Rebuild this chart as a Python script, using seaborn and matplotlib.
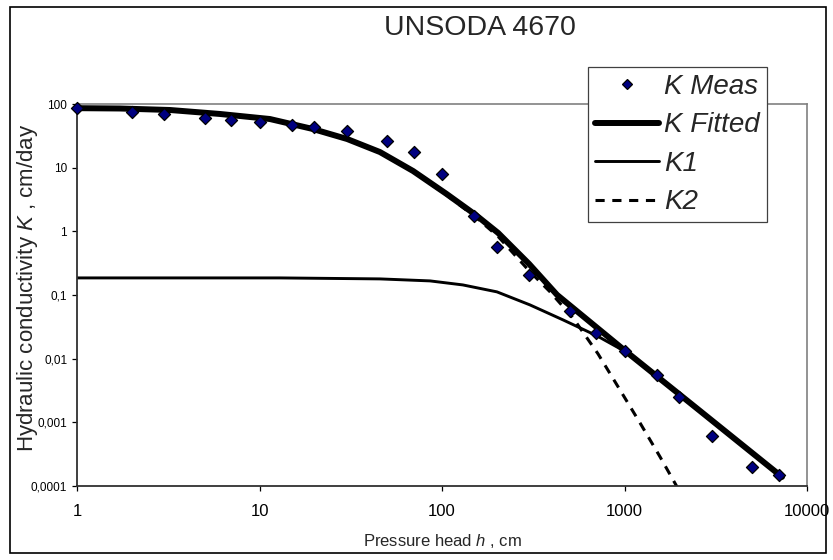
import numpy as np
import pandas as pd
import matplotlib
matplotlib.use("Agg")
import matplotlib.pyplot as plt
import seaborn as sns
from matplotlib.lines import Line2D
from matplotlib.patches import Rectangle
from matplotlib.font_manager import FontProperties

# ---------------- data ----------------
title = "UNSODA 4670"
h_meas = [1, 2, 3, 5, 7, 10, 15, 20, 30, 50, 70, 100, 150, 200, 300, 500, 700,
          1000, 1500, 2000, 3000, 5000, 7000]
k_meas = [86.6, 74.9, 69.7, 60.3, 56.1, 52.2, 46.7, 44.3, 37.7, 26.2, 17.6, 7.96,
          1.75, 0.569, 0.207, 0.0563, 0.0254, 0.0133, 0.00557, 0.00251,
          0.000614, 0.0002, 0.00015]

h_fit = [1, 1.72, 3.23, 6.08, 11.4, 19.6, 30.2, 45.7, 69.4, 106, 153, 203, 300,
         427, 994, 2594, 7295]
k_fit = [86, 85, 80.5, 69.7, 58.1, 40.5, 28.2, 17.6, 8.87, 3.86, 1.81, 0.944,
         0.308, 0.1005, 0.01374, 0.00151, 0.000139]

h_k1 = [1, 12.9, 45.7, 86, 130, 200, 303, 460, 707, 994, 2594, 7295]
k_k1 = [0.1855, 0.1855, 0.179, 0.1665, 0.144, 0.112, 0.070, 0.0407, 0.0228,
        0.01325, 0.00146, 0.000135]

h_k2 = [1, 1.72, 3.23, 6.08, 11.4, 19.6, 30.2, 45.7, 69.4, 106, 153, 203, 300,
        391, 522, 716, 944, 1216, 1566, 1940]
k_k2 = [85.8, 84.8, 80.3, 69.5, 57.9, 40.3, 28.0, 17.4, 8.7, 3.7, 1.67, 0.83,
        0.24, 0.112, 0.0438, 0.0119, 0.00324, 0.00098, 0.000287, 0.000097]

x_ticks = [1, 10, 100, 1000, 10000]
x_tick_labels = ["1", "10", "100", "1000", "10000"]
y_ticks = [0.0001, 0.001, 0.01, 0.1, 1, 10, 100]
y_tick_labels = ["0,0001", "0,001", "0,01", "0,1", "1", "10", "100"]
legend_labels = ["K Meas", "K Fitted", "K1", "K2"]

# ---------------- style ----------------
sns.set_style("white")
plt.rcParams["font.family"] = ["Liberation Sans", "DejaVu Sans"]
plt.rcParams["mathtext.fontset"] = "custom"
plt.rcParams["mathtext.rm"] = "Liberation Sans"
plt.rcParams["mathtext.it"] = "Liberation Sans:italic"

W, H = 833, 560
fig = plt.figure(figsize=(W / 100, H / 100), dpi=100)
fig.patch.set_facecolor("white")
ax = fig.add_axes([77 / W, 1 - 486 / H, 730 / W, 382 / H])

meas = pd.DataFrame({"h": h_meas, "K": k_meas})
fit = pd.DataFrame({"h": h_fit, "K": k_fit})
k1 = pd.DataFrame({"h": h_k1, "K": k_k1})
k2 = pd.DataFrame({"h": h_k2, "K": k_k2})

sns.lineplot(data=k1, x="h", y="K", ax=ax, color="black", lw=2.1, sort=False)
sns.lineplot(data=k2, x="h", y="K", ax=ax, color="black", lw=2.2,
             linestyle=(0, (3, 2.5)), sort=False)
sns.lineplot(data=fit, x="h", y="K", ax=ax, color="black", lw=4.3, sort=False)
sns.scatterplot(data=meas, x="h", y="K", ax=ax, marker="D", s=38,
                color="#000080", edgecolor="black", linewidth=0.9,
                zorder=5, clip_on=False)

ax.set_xscale("log")
ax.set_yscale("log")
ax.set_xlim(1, 10000)
ax.set_ylim(0.0001, 100)
ax.xaxis.set_major_locator(matplotlib.ticker.FixedLocator(x_ticks))
ax.yaxis.set_major_locator(matplotlib.ticker.FixedLocator(y_ticks))
ax.xaxis.set_minor_locator(matplotlib.ticker.NullLocator())
ax.yaxis.set_minor_locator(matplotlib.ticker.NullLocator())
ax.set_xticklabels(x_tick_labels)
ax.set_yticklabels(y_tick_labels)
ax.set_xlabel("")
ax.set_ylabel("")
ax.tick_params(axis="x", direction="out", length=3.6, width=0.9, pad=9,
               labelsize=12, colors="black", bottom=True)
ax.tick_params(axis="y", direction="out", length=3.6, width=0.9, pad=3.5,
               labelsize=8.5, colors="black", left=True)

for side in ["left", "bottom"]:
    ax.spines[side].set_color("#303030")
    ax.spines[side].set_linewidth(1.3)
for side in ["top", "right"]:
    ax.spines[side].set_color("#808080")
    ax.spines[side].set_linewidth(1.2)

# texts
fig.text(480 / W, 1 - 28 / H, title, ha="center", va="center", fontsize=20.5)
fig.text(442 / W, 1 - 541 / H, "Pressure head $h$ , cm", ha="center",
         va="center", fontsize=12)
fig.text(28 / W, 1 - 288 / H, "Hydraulic conductivity $K$ , cm/day",
         ha="center", va="center", rotation=90, fontsize=16)

# legend
handles = [
    Line2D([], [], marker="D", ls="none", mfc="#000080", mec="black",
           ms=4.6, mew=0.9),
    Line2D([], [], color="black", lw=4.3),
    Line2D([], [], color="black", lw=2.1),
    Line2D([], [], color="black", lw=2.2, linestyle=(0, (3, 2.5))),
]
leg = fig.legend(handles, legend_labels, loc="upper left",
                 bbox_to_anchor=(588 / W, 1 - 67 / H),
                 bbox_transform=fig.transFigure,
                 prop=FontProperties(family="Liberation Sans", style="italic",
                                     size=20),
                 frameon=True, fancybox=False, framealpha=1,
                 edgecolor="#404040", borderpad=0.25, handlelength=2.3,
                 handletextpad=0.2, labelspacing=0.45, borderaxespad=0,
                 numpoints=1)
leg.get_frame().set_linewidth(0.9)

# outer chart frame
fig.patches.append(Rectangle((10 / W, 1 - 553 / H), 816 / W, 546 / H,
                             transform=fig.transFigure, fill=False,
                             edgecolor="black", lw=1.2))

fig.savefig("out.png", dpi=100)
